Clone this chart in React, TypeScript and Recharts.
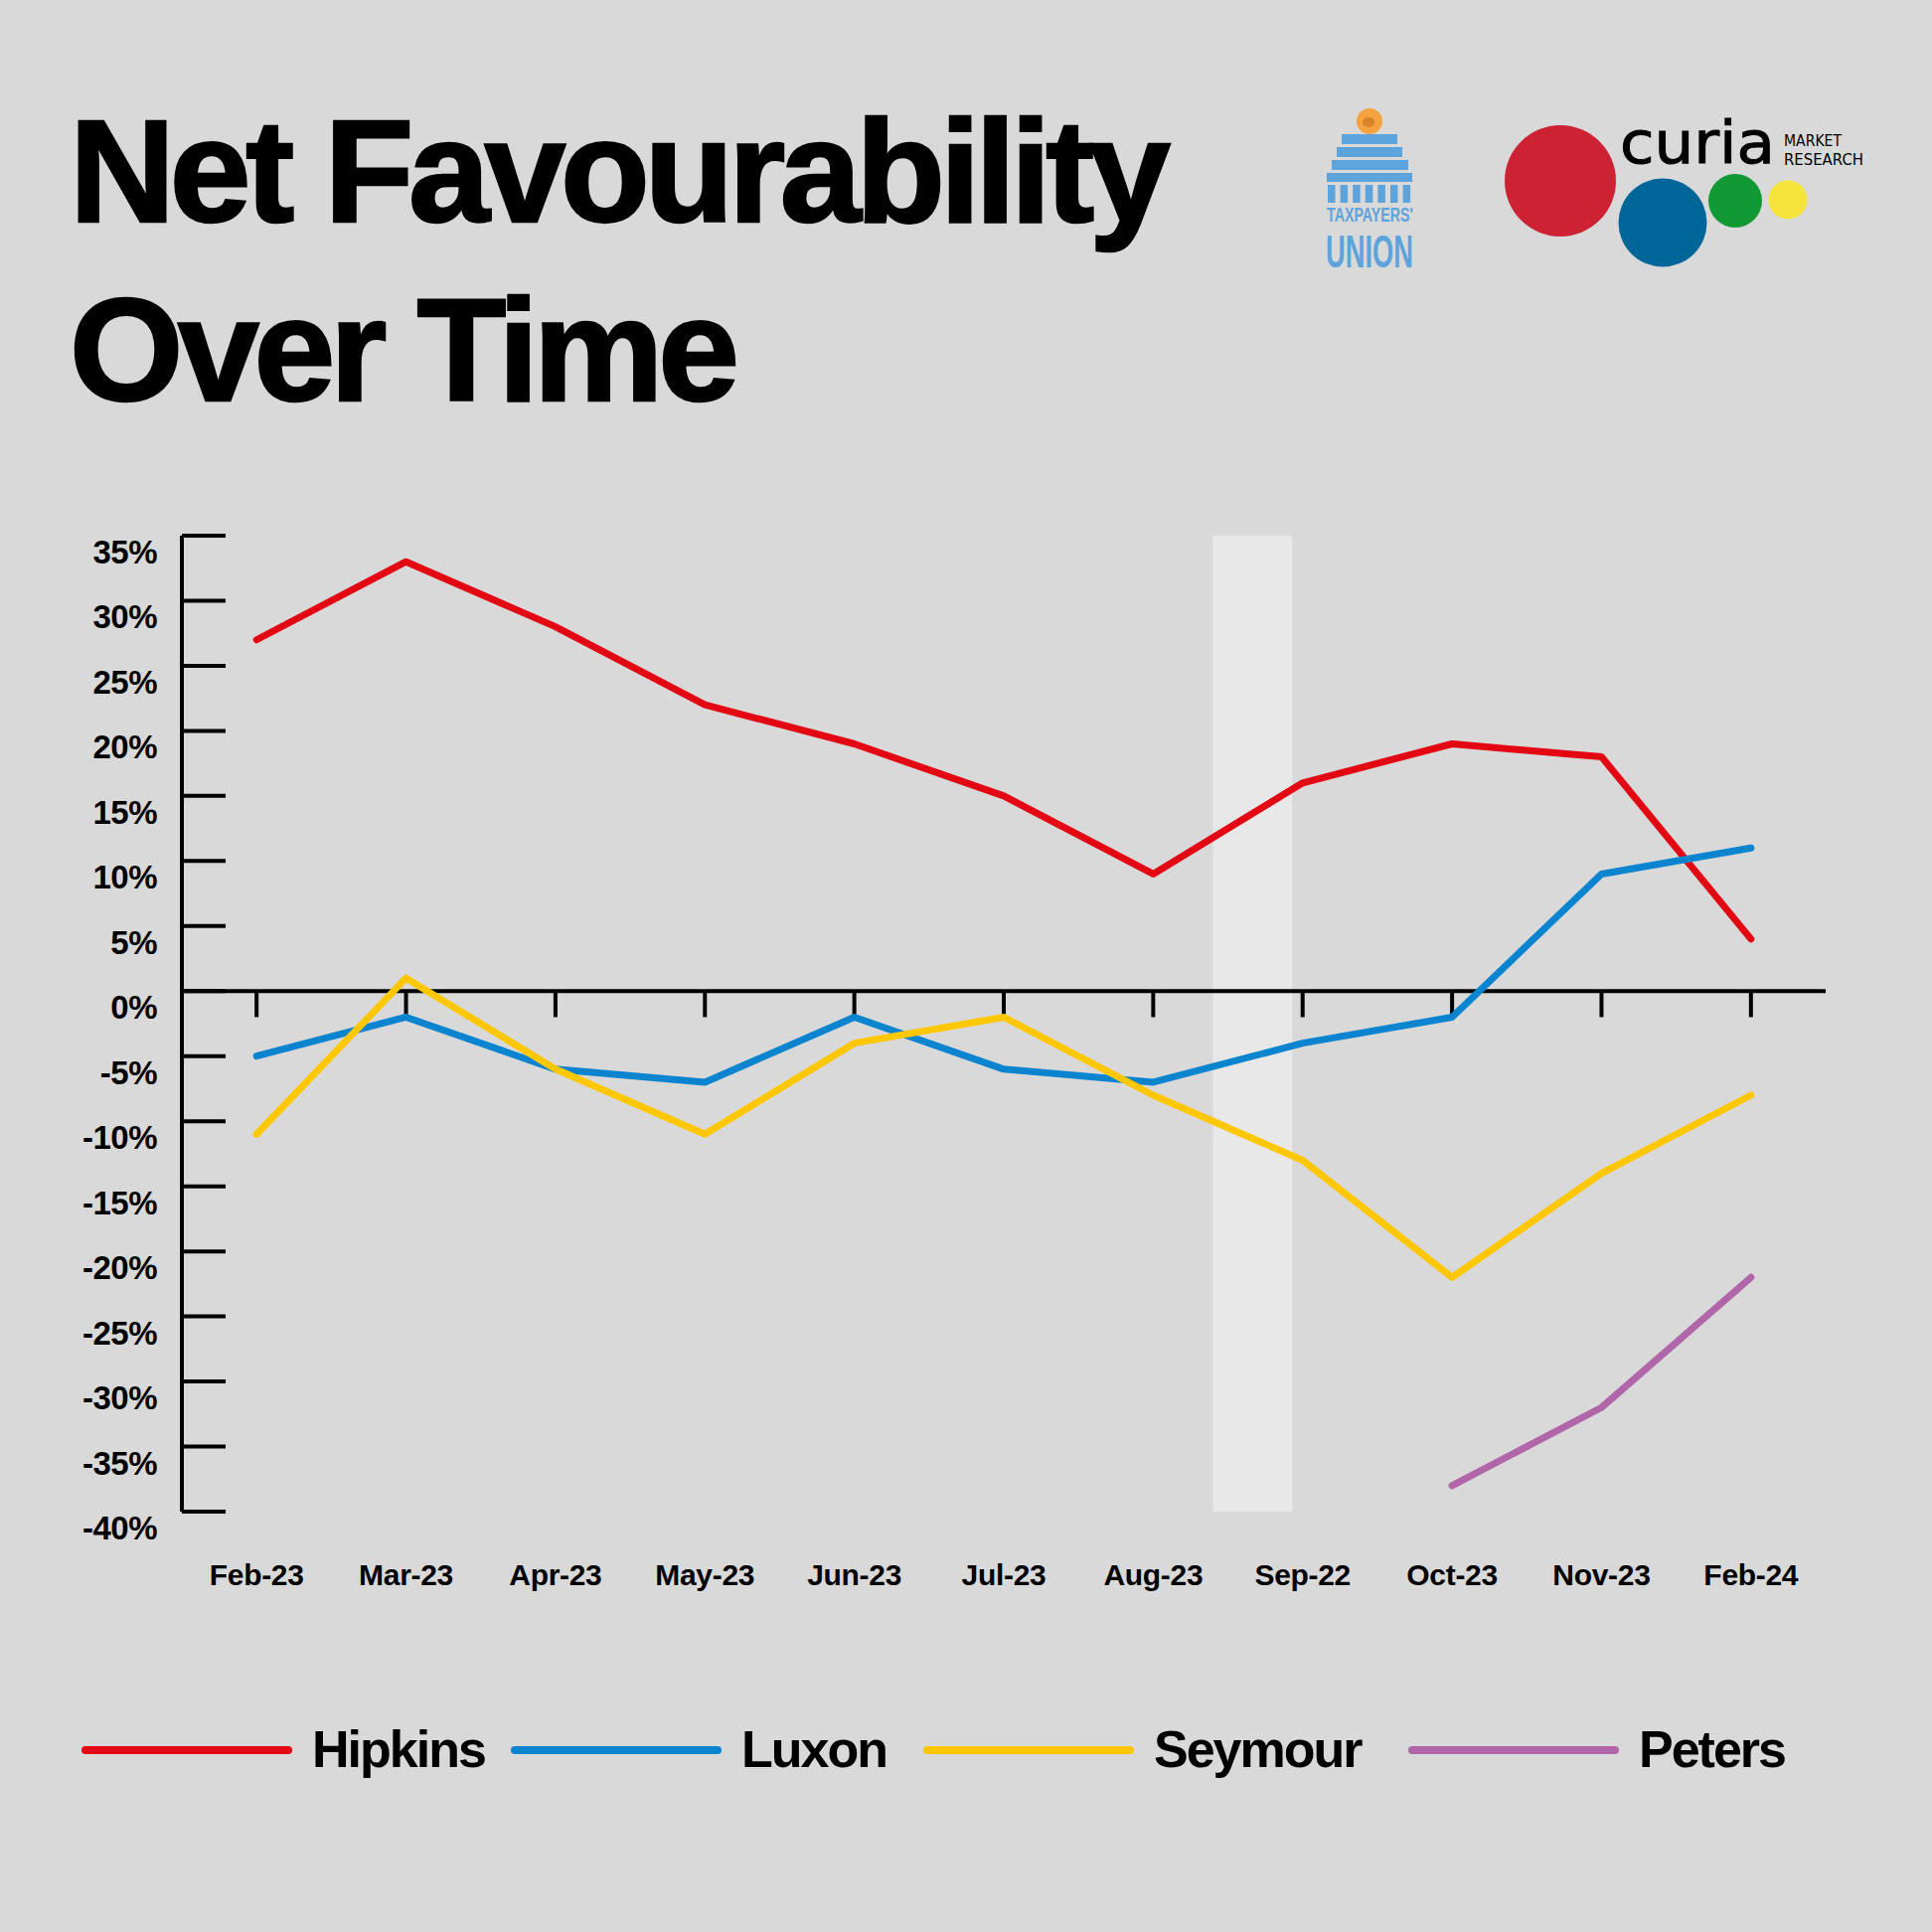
import React from 'react';
import { LineChart, Line, XAxis, YAxis, ReferenceLine, ReferenceArea } from 'recharts';

// ---- data ----
const categories = ['Feb-23', 'Mar-23', 'Apr-23', 'May-23', 'Jun-23', 'Jul-23', 'Aug-23', 'Sep-22', 'Oct-23', 'Nov-23', 'Feb-24'];
const hipkins = [27, 33, 28, 22, 19, 15, 9, 16, 19, 18, 4];
const luxon = [-5, -2, -6, -7, -2, -6, -7, -4, -2, 9, 11];
const seymour = [-11, 1, -6, -11, -4, -2, -8, -13, -22, -14, -8];
const peters: (number | null)[] = [null, null, null, null, null, null, null, null, -38, -32, -22];
const yTicks = [35, 30, 25, 20, 15, 10, 5, 0, -5, -10, -15, -20, -25, -30, -35, -40];
const bandStart = 6.4;
const bandEnd = 6.93;

const series = [
  { key: 'Hipkins', values: hipkins, color: '#e30613' },
  { key: 'Luxon', values: luxon, color: '#0a84cf' },
  { key: 'Seymour', values: seymour, color: '#ffc700' },
  { key: 'Peters', values: peters, color: '#b066a8' },
];

const tableData = categories.map((c, i) => {
  const row: any = { i, cat: c };
  series.forEach((s) => {
    row[s.key] = s.values[i];
  });
  return row;
});
const xIdx = categories.map((_, i) => i);

// ---- layout/style ----
const FONT = '"Liberation Sans", Arial, Helvetica, sans-serif';
const NARROW = '"Liberation Sans Narrow", "Liberation Sans", sans-serif';
const BG = '#d9d9d9';
const legendLeft = [82, 514, 929, 1417];

const YTick = (props: any) => {
  const { x, y, payload } = props;
  return (
    <g>
      <line x1={x} x2={x + 44} y1={y} y2={y} stroke="#000" strokeWidth={4} />
      <text x={x - 25} y={y + 28} textAnchor="end" fontFamily={FONT} fontWeight={700} fontSize={33} fill="#000" letterSpacing={-0.5}>
        {payload.value}%
      </text>
    </g>
  );
};

const XTick = (props: any) => {
  const { x, y, payload } = props;
  return (
    <text x={x} y={y + 74} textAnchor="middle" fontFamily={FONT} fontWeight={700} fontSize={30} fill="#000" letterSpacing={-0.3}>
      {categories[payload.value]}
    </text>
  );
};

const Header = () => (
  <svg width={1944} height={470} style={{ position: 'absolute', left: 0, top: 0 }}>
    <g fontFamily={FONT} fontWeight={700} fontSize={147} fill="#000" stroke="#000" strokeWidth={2.5} letterSpacing={-5.3}>
      <text x={70} y={223}>Net Favourability</text>
      <text x={70} y={403}>Over Time</text>
    </g>
    {/* Taxpayers' Union logo */}
    <g fill="#5ea4dc">
      <circle cx={1378} cy={122} r={13} fill="#f4a340" />
      <ellipse cx={1377} cy={123} rx={6} ry={5} fill="#d9822b" />
      <rect x={1350} y={135} width={56} height={10} />
      <rect x={1345} y={148} width={66} height={10} />
      <rect x={1340} y={161} width={77} height={10} />
      <rect x={1335} y={174} width={86} height={9} />
      {[0, 1, 2, 3, 4, 5, 6].map((k) => (
        <rect key={k} x={1336 + k * 12.6} y={186} width={7.5} height={18} />
      ))}
      <text x={1335} y={223} fontFamily={NARROW} fontWeight={700} fontSize={21} textLength={87} lengthAdjust="spacingAndGlyphs">
        TAXPAYERS'
      </text>
      <text x={1334} y={269} fontFamily={NARROW} fontWeight={700} fontSize={46} textLength={88} lengthAdjust="spacingAndGlyphs">
        UNION
      </text>
    </g>
    {/* curia logo */}
    <circle cx={1570} cy={182} r={56} fill="#cc2233" />
    <circle cx={1673} cy={224} r={44.5} fill="#006699" />
    <circle cx={1746} cy={202} r={27} fill="#119933" />
    <circle cx={1799} cy={201} r={19.5} fill="#f5e53a" />
    <text x={1630} y={164} fontFamily='"DejaVu Sans", sans-serif' fontSize={58} fill="#000" stroke="#000" strokeWidth={1} textLength={156} lengthAdjust="spacingAndGlyphs">
      curia
    </text>
    <text x={1795} y={147} fontFamily='"DejaVu Sans", sans-serif' fontSize={16} fill="#000" textLength={58} lengthAdjust="spacingAndGlyphs">
      MARKET
    </text>
    <text x={1795} y={166} fontFamily='"DejaVu Sans", sans-serif' fontSize={16} fill="#000" textLength={80} lengthAdjust="spacingAndGlyphs">
      RESEARCH
    </text>
  </svg>
);

const LegendHtml = () => (
  <div style={{ position: 'absolute', left: 0, top: 1721, width: 1944, height: 80 }}>
    {series.map((s, k) => (
      <div
        key={s.key}
        style={{ position: 'absolute', left: legendLeft[k], top: 0, height: 80, display: 'flex', alignItems: 'center' }}
      >
        <span style={{ display: 'inline-block', width: 212, height: 8, borderRadius: 4, background: s.color, marginRight: 20 }} />
        <span
          style={{
            fontFamily: FONT,
            fontWeight: 700,
            fontSize: 52,
            letterSpacing: -2,
            lineHeight: 1,
            color: '#000',
            position: 'relative',
            top: -1,
          }}
        >
          {s.key}
        </span>
      </div>
    ))}
  </div>
);

export default function App() {
  return (
    <div style={{ position: 'absolute', left: 0, top: 0, width: 1944, height: 1944, background: BG, overflow: 'hidden' }}>
      <div style={{ position: 'absolute', left: 0, top: 0 }}>
        <LineChart width={1944} height={1944} data={tableData} margin={{ top: 539, right: 107, bottom: 323, left: 0 }}>
          <ReferenceArea x1={bandStart} x2={bandEnd} fill="#e8e8e8" fillOpacity={1} stroke="none" ifOverflow="visible" />
          <XAxis
            dataKey="i"
            type="number"
            domain={[-0.5, 10.5]}
            ticks={xIdx}
            interval={0}
            axisLine={false}
            tickLine={false}
            tickSize={0}
            tickMargin={0}
            height={100}
            tick={<XTick />}
          />
          <YAxis
            type="number"
            domain={[-40, 35]}
            ticks={yTicks}
            interval={0}
            width={183}
            axisLine={{ stroke: '#000', strokeWidth: 4 }}
            tickLine={false}
            tickSize={0}
            tickMargin={0}
            tick={<YTick />}
          />
          <ReferenceLine y={0} stroke="#000" strokeWidth={4} />
          {xIdx.map((i) => (
            <ReferenceLine
              key={'t' + i}
              segment={[
                { x: i, y: 0 },
                { x: i, y: -2 },
              ]}
              stroke="#000"
              strokeWidth={4}
            />
          ))}
          {series.map((s) => (
            <Line
              key={s.key}
              type="linear"
              dataKey={s.key}
              stroke={s.color}
              strokeWidth={7}
              strokeLinecap="round"
              strokeLinejoin="round"
              dot={false}
              activeDot={false}
              isAnimationActive={false}
            />
          ))}
        </LineChart>
      </div>
      <Header />
      <LegendHtml />
    </div>
  );
}
